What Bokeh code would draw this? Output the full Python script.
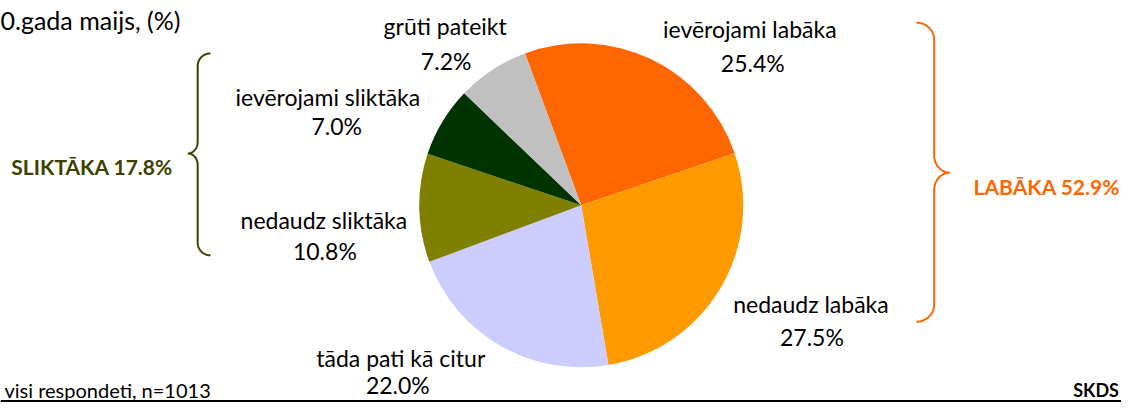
import numpy as np
from bokeh.plotting import figure
from bokeh.models import Range1d, ColumnDataSource
from bokeh.core.properties import value
from bokeh.embed import file_html
from bokeh.resources import INLINE

# ---------------- data ----------------
categories = ["ievērojami labāka", "nedaudz labāka", "tāda pati kā citur",
              "nedaudz sliktāka", "ievērojami sliktāka", "grūti pateikt"]
shares = [25.4, 27.5, 22.0, 10.8, 7.0, 7.2]
colors = ["#FF6600", "#FF9900", "#CCCCFF", "#808000", "#003300", "#C0C0C0"]
group_better = "LABĀKA 52.9%"
group_worse = "SLIKTĀKA 17.8%"
title_text = "0.gada maijs, (%)"
note_text = "visi respondeti, n=1013"
source_text = "SKDS"

# ---------------- layout (reference pixel coords, y downward) ----------------
W_REF, H_REF = 1137, 418
CX, CY, R_PX = 589, 213, 162
START_DEG = -20.3          # clockwise from 12 o'clock
FONT = "Lato"
name_pos = [(760, 30), (822, 316), (406, 372), (328, 228), (332, 100), (451, 27)]
pct_pos = [(763, 65), (823, 350), (403, 400), (329, 260), (341, 130), (452, 63)]


def Y(v):
    return H_REF - v


p = figure(width=1121, height=402, x_range=Range1d(0, W_REF), y_range=Range1d(0, H_REF),
           output_backend="svg", toolbar_location=None, min_border=0)
p.axis.visible = False
p.grid.visible = False
p.outline_line_color = None
p.background_fill_color = "white"
p.border_fill_color = "white"

# ---------------- pie ----------------
total = sum(shares)
cum = np.concatenate([[0], np.cumsum(shares)])
t0 = START_DEG + 360 * cum[:-1] / total
t1 = START_DEG + 360 * cum[1:] / total
src = ColumnDataSource(dict(
    cat=categories, share=shares, color=colors,
    start=np.radians(90 - t0), end=np.radians(90 - t1),
))
p.wedge(x=CX, y=Y(CY), radius=R_PX, radius_units="screen",
        start_angle="start", end_angle="end", direction="clock",
        fill_color="color", line_color=None, source=src)

# ---------------- labels ----------------
lab = ColumnDataSource(dict(
    x=[q[0] for q in name_pos], y=[Y(q[1]) for q in name_pos], text=categories))
pct = ColumnDataSource(dict(
    x=[q[0] for q in pct_pos], y=[Y(q[1]) for q in pct_pos],
    text=[f"{v:.1f}%" for v in shares]))
for s in (lab, pct):
    p.text(x="x", y="y", text="text", source=s, text_align="center",
           text_baseline="alphabetic", text_font=value(FONT),
           text_font_size="23px", text_color="#000000")

# ---------------- braces ----------------
def brace(x_end, x_mid, x_tip, y_top, y_tip, y_bot, h1, h2, n=20):
    r1 = x_mid - x_end
    r2 = x_tip - x_mid
    t = np.linspace(0, np.pi / 2, n)
    xs, ys = [], []
    xs += list(x_end + r1 * np.sin(t)); ys += list(y_top + h1 - h1 * np.cos(t))
    xs += list(x_tip - r2 * np.cos(t)); ys += list(y_tip - h2 + h2 * np.sin(t))
    tr = t[::-1]
    xs += list(x_tip - r2 * np.cos(tr)); ys += list(y_tip + h2 - h2 * np.sin(tr))
    xs += list(x_end + r1 * np.sin(tr)); ys += list(y_bot - h1 + h1 * np.cos(tr))
    return xs, [Y(v) for v in ys]

bx, by = brace(929, 947, 963, 23, 179, 334, 18, 18)
p.line(bx, by, line_color="#FF6600", line_width=2)
bx, by = brace(213, 200, 190, 55, 159, 265, 13, 12)
p.line(bx, by, line_color="#404000", line_width=2)

p.text(x=[987], y=[Y(193)], text=[group_better], text_align="left",
       text_baseline="alphabetic", text_font=value(FONT), text_font_style="bold",
       text_font_size="21px", text_color="#FF6600")
p.text(x=[11], y=[Y(173)], text=[group_worse], text_align="left",
       text_baseline="alphabetic", text_font=value(FONT), text_font_style="bold",
       text_font_size="21px", text_color="#404000")

# ---------------- title, notes, rule ----------------
p.text(x=[0], y=[Y(20)], text=[title_text], text_align="left",
       text_baseline="alphabetic", text_font=value(FONT),
       text_font_size="25px", text_color="#000000")
p.text(x=[4], y=[Y(405)], text=[note_text], text_align="left",
       text_baseline="alphabetic", text_font=value(FONT),
       text_font_size="20px", text_color="#000000")
p.text(x=[1088], y=[Y(405)], text=[source_text], text_align="left",
       text_baseline="alphabetic", text_font=value(FONT), text_font_style="bold",
       text_font_size="18px", text_color="#000000")
p.segment(x0=[0], y0=[Y(416.5)], x1=[W_REF], y1=[Y(416.5)],
          line_color="#000000", line_width=2)

open("out.html", "w").write(file_html(p, INLINE))
